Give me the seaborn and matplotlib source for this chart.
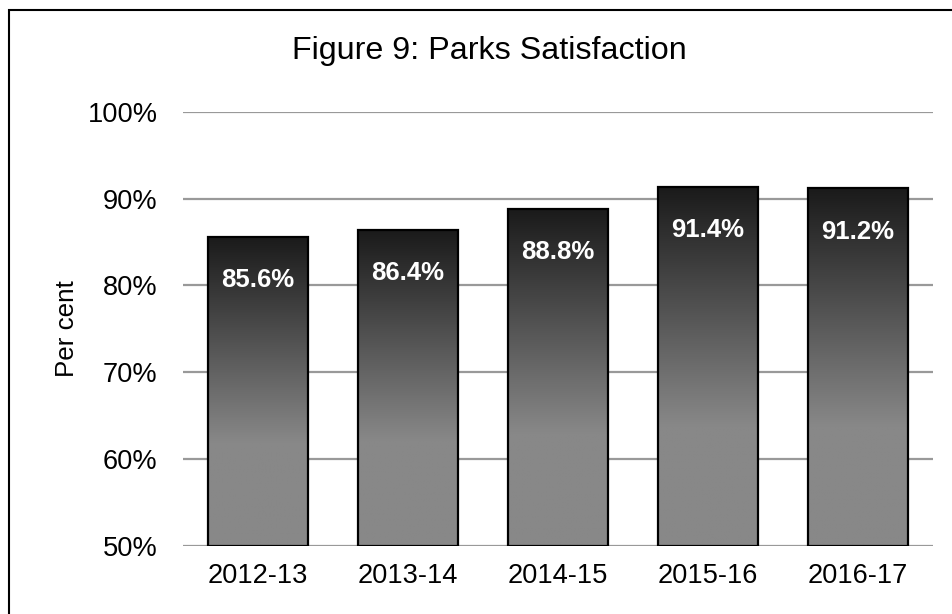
import matplotlib
matplotlib.use("Agg")
import matplotlib.pyplot as plt
import seaborn as sns
import numpy as np
import pandas as pd
from matplotlib.colors import LinearSegmentedColormap
from matplotlib.patches import Rectangle

years = ["2012-13", "2013-14", "2014-15", "2015-16", "2016-17"]
values = [85.6, 86.4, 88.8, 91.4, 91.2]
yticks = [50, 60, 70, 80, 90, 100]
base = 50

sns.set_theme(style="white")
plt.rcParams['font.family'] = ['Liberation Sans', 'DejaVu Sans']

W, H = 953, 614
fig = plt.figure(figsize=(W / 100, H / 100), dpi=100)
ax = fig.add_axes([183 / W, 1 - 545.5 / H, 750 / W, (545.5 - 112) / H])

df = pd.DataFrame({"year": years, "value": values})
sns.barplot(data=df, x="year", y="value", ax=ax, width=0.67,
            color="#888888", edgecolor="black", linewidth=1.6, zorder=3)

ax.set_yticks(yticks)
ax.set_yticklabels([f"{t}%" for t in yticks])
ax.yaxis.grid(True, color="#999999", linewidth=1.6, zorder=0)
ax.set_axisbelow(True)
for s in ax.spines.values():
    s.set_visible(False)
ax.tick_params(axis="both", length=0, labelsize=19.6, colors="black")
ax.tick_params(axis="y", pad=18.4)
ax.tick_params(axis="x", pad=12.5)
ax.set_xlabel("")
ax.set_ylabel("Per cent", fontsize=18.7, labelpad=6, color="black")

# gradient fill
cmap = LinearSegmentedColormap.from_list(
    "g", [(0.0, "#888888"), (0.33, "#888888"), (1.0, "#1a1a1a")])
grad = np.linspace(0, 1, 256).reshape(-1, 1)
for p, v in zip(ax.patches, values):
    p.set_y(base)
    p.set_height(v - base)
    x0 = p.get_x(); w = p.get_width()
    ax.imshow(grad, cmap=cmap, aspect="auto", origin="lower",
              extent=[x0, x0 + w, base, v], zorder=3.5,
              interpolation="bilinear")
    p.set_facecolor("none")
    p.set_zorder(4)
    ax.text(x0 + w / 2, v - 5, f"{v:.1f}%", ha="center", va="center",
            color="white", fontsize=18.5, fontweight="bold", zorder=5)
ax.set_xlim(-0.5, len(years) - 0.5)
ax.set_ylim(50, 100)

fig.text(489 / W, 1 - 51 / H, "Figure 9: Parks Satisfaction", ha="center",
         va="center", fontsize=23.2, color="black")

fig.patches.append(Rectangle((9.5 / W, -0.1), 1.2, 1.1 - 10.5 / H,
                             transform=fig.transFigure, fill=False,
                             edgecolor="black", linewidth=1.5, clip_on=False))

fig.savefig("out.png", dpi=100)
